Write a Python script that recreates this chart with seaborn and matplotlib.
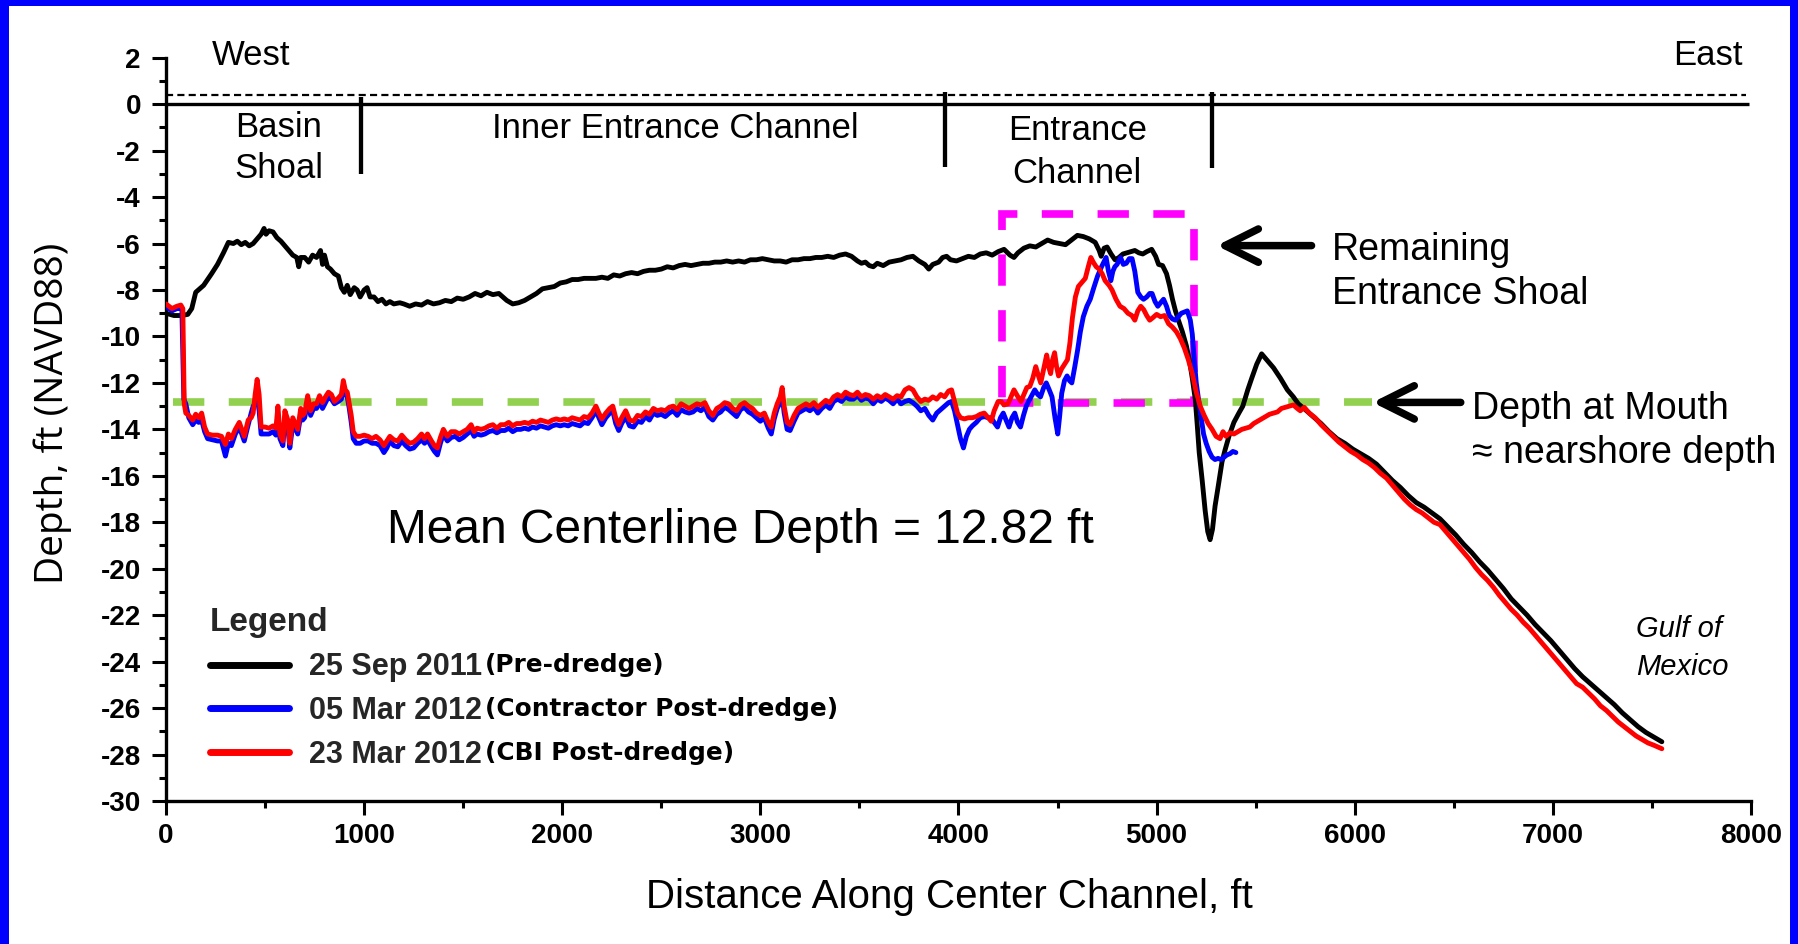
import matplotlib
matplotlib.use("Agg")
import matplotlib.pyplot as plt
import numpy as np
import pandas as pd
import seaborn as sns
from matplotlib.patches import Rectangle
from matplotlib.ticker import MultipleLocator
from matplotlib.font_manager import FontProperties

# ---------------- data ----------------
PRE_X = [0, 40, 80, 110, 130, 150, 190, 230, 260, 290, 315, 340, 360, 380, 400, 420, 440, 460, 480, 495,
         505, 520, 540, 560, 580, 600, 620, 640, 660, 670, 680, 700, 720, 740, 760, 780, 790, 800, 815, 830,
         850, 870, 885, 900, 915, 930, 950, 965, 980, 1000, 1015, 1030, 1050, 1070, 1090, 1110, 1130, 1150,
         1180, 1200, 1230, 1260, 1290, 1320, 1350, 1380, 1410, 1440, 1470, 1500, 1530, 1560, 1590, 1620,
         1650, 1680, 1700, 1720, 1750, 1780, 1810, 1840, 1870, 1900, 1930, 1960, 1990, 2020, 2050, 2080,
         2110, 2140, 2170, 2200, 2230, 2260, 2290, 2320, 2350, 2380, 2410, 2440, 2470, 2500, 2530, 2560,
         2590, 2620, 2650, 2680, 2710, 2740, 2770, 2800, 2830, 2860, 2890, 2920, 2950, 2980, 3010, 3040,
         3070, 3100, 3130, 3160, 3190, 3220, 3250, 3280, 3310, 3340, 3370, 3400, 3430, 3460, 3490, 3510,
         3530, 3550, 3570, 3590, 3620, 3650, 3680, 3710, 3740, 3770, 3800, 3830, 3850, 3870, 3900, 3920,
         3940, 3960, 3990, 4020, 4050, 4080, 4110, 4140, 4170, 4200, 4230, 4260, 4280, 4300, 4330, 4360,
         4390, 4420, 4450, 4480, 4510, 4540, 4570, 4600, 4630, 4660, 4690, 4710, 4720, 4735, 4750, 4770,
         4790, 4810, 4830, 4850, 4870, 4890, 4910, 4930, 4950, 4975, 4995, 5010, 5030, 5050, 5065, 5080,
         5095, 5110, 5130, 5150, 5165, 5180, 5195, 5205, 5215, 5230, 5245, 5258, 5270, 5282, 5295, 5310,
         5330, 5345, 5365, 5390, 5415, 5435, 5460, 5480, 5505, 5530, 5555, 5590, 5625, 5660, 5690, 5715,
         5750, 5790, 5830, 5870, 5910, 5950, 5990, 6030, 6070, 6110, 6150, 6190, 6230, 6270, 6310, 6350,
         6390, 6430, 6470, 6510, 6550, 6590, 6630, 6670, 6710, 6750, 6790, 6830, 6870, 6910, 6950, 6990,
         7030, 7070, 7110, 7150, 7190, 7230, 7270, 7310, 7350, 7390, 7430, 7470, 7510, 7550]
PRE_Y = [-9.0, -9.1, -9.1, -9.05, -8.8, -8.1, -7.8, -7.3, -6.9, -6.4, -5.95, -6.0, -5.9, -6.05, -5.95, -6.1,
         -6.0, -5.8, -5.6, -5.35, -5.6, -5.45, -5.5, -5.75, -5.9, -6.1, -6.3, -6.5, -6.6, -7.0, -6.6, -6.6,
         -6.8, -6.5, -6.6, -6.3, -6.9, -6.5, -7.0, -7.1, -7.3, -7.4, -7.9, -8.1, -7.8, -8.2, -7.9, -8.0,
         -8.3, -8.0, -7.9, -8.3, -8.3, -8.5, -8.4, -8.6, -8.5, -8.6, -8.55, -8.6, -8.7, -8.6, -8.65, -8.5,
         -8.6, -8.55, -8.45, -8.5, -8.35, -8.4, -8.3, -8.15, -8.25, -8.1, -8.2, -8.15, -8.3, -8.45, -8.6,
         -8.55, -8.45, -8.3, -8.15, -7.95, -7.9, -7.85, -7.7, -7.65, -7.55, -7.55, -7.5, -7.5, -7.5, -7.45,
         -7.5, -7.35, -7.4, -7.3, -7.25, -7.3, -7.2, -7.15, -7.15, -7.1, -7.0, -7.05, -6.95, -6.9, -6.95,
         -6.9, -6.85, -6.85, -6.8, -6.8, -6.75, -6.8, -6.75, -6.8, -6.7, -6.7, -6.65, -6.7, -6.75, -6.75,
         -6.8, -6.7, -6.7, -6.65, -6.65, -6.6, -6.6, -6.55, -6.6, -6.5, -6.45, -6.55, -6.75, -6.85, -6.8,
         -6.95, -7.0, -6.85, -6.95, -6.8, -6.75, -6.7, -6.6, -6.55, -6.75, -6.9, -7.1, -6.9, -6.8, -6.6,
         -6.55, -6.7, -6.75, -6.65, -6.55, -6.6, -6.45, -6.4, -6.5, -6.35, -6.25, -6.5, -6.6, -6.4, -6.2,
         -6.1, -6.15, -6.0, -5.85, -5.95, -6.0, -6.05, -5.85, -5.65, -5.7, -5.8, -5.95, -6.3, -6.55, -6.2,
         -6.15, -6.45, -6.7, -6.6, -6.45, -6.4, -6.35, -6.3, -6.4, -6.45, -6.35, -6.25, -6.55, -6.9, -6.95,
         -7.3, -7.8, -8.4, -8.9, -9.3, -9.8, -10.4, -11.0, -11.8, -12.7, -13.8, -15.0, -16.2, -17.5, -18.4,
         -18.75, -18.3, -17.3, -16.5, -15.4, -14.9, -14.3, -13.7, -13.3, -13.0, -12.3, -11.8, -11.2, -10.75,
         -11.0, -11.35, -11.8, -12.3, -12.6, -12.9, -13.15, -13.45, -13.75, -14.1, -14.4, -14.6, -14.85,
         -15.05, -15.25, -15.5, -15.85, -16.2, -16.5, -16.85, -17.15, -17.35, -17.6, -17.85, -18.2, -18.55,
         -18.95, -19.3, -19.7, -20.05, -20.45, -20.85, -21.3, -21.65, -22.0, -22.4, -22.75, -23.1, -23.5,
         -23.9, -24.3, -24.65, -24.95, -25.25, -25.55, -25.85, -26.2, -26.5, -26.8, -27.05, -27.25, -27.45]

CON_X = [0, 30, 55, 80, 90, 100, 115, 135, 150, 165, 180, 195, 210, 235, 260, 280, 300, 315, 330, 350,
         370, 395, 415, 430, 440, 450, 460, 470, 480, 500, 520, 540, 555, 565, 575, 590, 600, 615, 625, 640,
         655, 665, 680, 690, 700, 715, 730, 745, 760, 775, 790, 805, 820, 835, 850, 870, 885, 895, 905, 915,
         925, 935, 945, 960, 980, 1000, 1020, 1040, 1060, 1080, 1100, 1115, 1130, 1150, 1170, 1190, 1210,
         1230, 1250, 1270, 1290, 1305, 1320, 1340, 1355, 1370, 1385, 1400, 1420, 1440, 1460, 1480, 1500,
         1520, 1540, 1555, 1570, 1590, 1610, 1630, 1650, 1670, 1690, 1710, 1730, 1750, 1770, 1790, 1810,
         1830, 1850, 1870, 1890, 1910, 1930, 1950, 1970, 1990, 2010, 2030, 2050, 2070, 2090, 2110, 2130,
         2150, 2170, 2185, 2200, 2220, 2240, 2255, 2270, 2285, 2300, 2320, 2340, 2360, 2380, 2400, 2420,
         2440, 2460, 2480, 2500, 2520, 2540, 2560, 2580, 2600, 2620, 2640, 2660, 2680, 2700, 2720, 2740,
         2760, 2780, 2800, 2820, 2840, 2860, 2880, 2900, 2920, 2940, 2960, 2980, 3000, 3020, 3040, 3055,
         3070, 3085, 3100, 3110, 3120, 3135, 3150, 3170, 3190, 3210, 3230, 3250, 3270, 3290, 3310, 3330,
         3350, 3370, 3390, 3410, 3430, 3450, 3470, 3490, 3510, 3530, 3550, 3570, 3590, 3610, 3630, 3650,
         3670, 3690, 3710, 3730, 3750, 3770, 3790, 3810, 3830, 3850, 3870, 3890, 3910, 3930, 3950, 3965,
         3980, 3995, 4010, 4025, 4040, 4055, 4070, 4090, 4110, 4130, 4150, 4165, 4180, 4197, 4212, 4226,
         4240, 4255, 4270, 4284, 4298, 4313, 4328, 4342, 4360, 4385, 4400, 4414, 4430, 4443, 4458, 4472,
         4487, 4501, 4511, 4521, 4535, 4548, 4560, 4572, 4587, 4601, 4615, 4630, 4648, 4665, 4683, 4702,
         4722, 4745, 4757, 4769, 4779, 4789, 4800, 4818, 4832, 4847, 4862, 4876, 4890, 4905, 4920, 4934,
         4950, 4965, 4977, 4992, 5006, 5020, 5035, 5050, 5064, 5080, 5095, 5110, 5125, 5140, 5155, 5170,
         5180, 5190, 5200, 5213, 5225, 5237, 5250, 5265, 5280, 5295, 5310, 5325, 5340, 5355, 5370, 5385, 5400]
CON_Y = [-8.7, -8.9, -8.8, -8.8, -12.7, -12.9, -13.5, -13.8, -13.6, -13.7, -13.6, -14.1, -14.4, -14.45,
         -14.5, -14.5, -15.15, -14.6, -14.7, -14.2, -13.9, -14.5, -13.8, -13.3, -13.0, -12.9, -12.6, -13.2,
         -14.2, -14.2, -14.2, -14.1, -14.25, -13.4, -14.4, -14.7, -13.5, -13.9, -14.8, -13.8, -14.0, -14.2,
         -13.4, -13.6, -13.5, -12.8, -13.4, -13.1, -13.1, -12.8, -13.1, -12.85, -12.6, -12.7, -12.9, -12.8,
         -12.7, -12.3, -12.5, -12.6, -13.1, -13.7, -14.4, -14.6, -14.6, -14.5, -14.5, -14.6, -14.6, -14.7,
         -15.0, -14.8, -14.5, -14.7, -14.75, -14.5, -14.7, -14.85, -14.8, -14.6, -14.45, -14.6, -14.45,
         -14.75, -14.95, -15.1, -14.6, -14.2, -14.5, -14.35, -14.3, -14.45, -14.35, -14.2, -14.05, -14.3,
         -14.2, -14.25, -14.2, -14.1, -14.05, -14.15, -14.05, -14.05, -13.95, -14.1, -14.0, -14.0, -13.95,
         -14.0, -13.9, -13.95, -13.85, -13.9, -13.95, -13.85, -13.8, -13.85, -13.8, -13.85, -13.75, -13.8,
         -13.85, -13.7, -13.75, -13.5, -13.2, -13.5, -13.8, -13.5, -13.3, -13.2, -13.75, -14.05, -13.75,
         -13.45, -13.85, -13.9, -13.65, -13.7, -13.45, -13.6, -13.3, -13.4, -13.35, -13.45, -13.3, -13.2,
         -13.4, -13.15, -13.25, -13.3, -13.25, -13.1, -13.2, -13.05, -13.45, -13.6, -13.35, -13.25, -13.05,
         -13.15, -13.3, -13.45, -13.15, -13.05, -13.25, -13.35, -13.5, -13.65, -13.5, -13.95, -14.2, -13.55,
         -13.1, -12.85, -12.5, -13.3, -14.0, -14.05, -13.65, -13.3, -13.2, -13.1, -13.2, -13.05, -13.3,
         -13.1, -12.95, -13.1, -12.8, -12.7, -12.8, -12.6, -12.7, -12.7, -12.55, -12.75, -12.65, -12.7,
         -12.9, -12.7, -12.8, -12.65, -12.75, -12.9, -12.7, -12.9, -12.8, -12.75, -12.85, -13.0, -13.2,
         -13.1, -13.4, -13.6, -13.3, -13.15, -13.0, -12.85, -12.8, -13.2, -13.8, -14.4, -14.8, -14.3, -14.0,
         -13.85, -13.7, -13.5, -13.45, -13.5, -13.5, -13.7, -13.9, -13.5, -13.3, -13.6, -13.9, -13.5, -13.3,
         -13.7, -13.9, -13.4, -13.0, -12.7, -12.3, -12.5, -12.6, -12.2, -12.0, -12.3, -12.6, -13.5, -14.2,
         -13.4, -12.45, -11.9, -11.7, -11.9, -12.0, -11.3, -10.6, -9.8, -9.15, -8.7, -8.4, -7.9, -7.4, -7.0,
         -6.6, -7.2, -7.6, -7.2, -7.0, -6.9, -6.6, -6.9, -6.85, -6.65, -6.65, -7.2, -8.1, -8.3, -8.4, -8.3,
         -8.15, -8.15, -8.5, -8.7, -8.55, -8.4, -8.7, -9.1, -9.25, -9.3, -9.15, -9.0, -8.95, -8.9, -9.3,
         -9.9, -11.0, -12.0, -12.8, -13.5, -14.2, -14.6, -14.95, -15.2, -15.3, -15.25, -15.3, -15.2, -15.1,
         -15.05, -14.95, -15.0]

CBI_X = [0, 30, 55, 75, 85, 92, 100, 115, 135, 150, 165, 180, 195, 210, 235, 260, 280, 300, 315, 330,
         350, 370, 395, 415, 430, 440, 450, 460, 470, 480, 500, 520, 540, 555, 565, 575, 590, 600, 615, 625,
         640, 655, 665, 680, 690, 700, 715, 730, 745, 760, 775, 790, 805, 820, 835, 850, 870, 885, 895, 905,
         915, 925, 935, 945, 960, 980, 1000, 1020, 1040, 1060, 1080, 1100, 1115, 1130, 1150, 1170, 1190,
         1210, 1230, 1250, 1270, 1290, 1305, 1320, 1340, 1355, 1370, 1385, 1400, 1420, 1440, 1460, 1480,
         1500, 1520, 1540, 1555, 1570, 1590, 1610, 1630, 1650, 1670, 1690, 1710, 1730, 1750, 1770, 1790,
         1810, 1830, 1850, 1870, 1890, 1910, 1930, 1950, 1970, 1990, 2010, 2030, 2050, 2070, 2090, 2110,
         2130, 2150, 2170, 2185, 2200, 2220, 2240, 2255, 2270, 2285, 2300, 2320, 2340, 2360, 2380, 2400,
         2420, 2440, 2460, 2480, 2500, 2520, 2540, 2560, 2580, 2600, 2620, 2640, 2660, 2680, 2700, 2720,
         2740, 2760, 2780, 2800, 2820, 2840, 2860, 2880, 2900, 2920, 2940, 2960, 2980, 3000, 3020, 3040,
         3055, 3070, 3085, 3100, 3110, 3120, 3135, 3150, 3170, 3190, 3210, 3230, 3250, 3270, 3290, 3310,
         3330, 3350, 3370, 3390, 3410, 3430, 3450, 3470, 3490, 3510, 3530, 3550, 3570, 3590, 3610, 3630,
         3650, 3670, 3690, 3710, 3730, 3750, 3770, 3790, 3810, 3830, 3850, 3870, 3890, 3910, 3930, 3950,
         3965, 3980, 3995, 4010, 4030, 4050, 4070, 4090, 4110, 4130, 4150, 4165, 4180, 4200, 4215, 4230,
         4250, 4265, 4280, 4300, 4315, 4330, 4345, 4360, 4375, 4390, 4400, 4415, 4430, 4445, 4455, 4465,
         4475, 4485, 4495, 4505, 4520, 4535, 4550, 4562, 4575, 4590, 4605, 4620, 4640, 4655, 4668, 4680,
         4695, 4710, 4725, 4740, 4760, 4775, 4795, 4815, 4835, 4855, 4875, 4890, 4905, 4920, 4935, 4950,
         4965, 4980, 5000, 5020, 5040, 5060, 5080, 5100, 5120, 5140, 5160, 5180, 5200, 5220, 5240, 5260,
         5280, 5300, 5320, 5335, 5350, 5370, 5390, 5410, 5430, 5450, 5470, 5490, 5510, 5530, 5550, 5570,
         5590, 5610, 5630, 5650, 5670, 5690, 5710, 5725, 5745, 5770, 5800, 5830, 5860, 5890, 5920, 5950,
         5980, 6010, 6040, 6070, 6100, 6130, 6160, 6190, 6220, 6250, 6280, 6310, 6340, 6370, 6400, 6430,
         6460, 6490, 6520, 6550, 6580, 6610, 6640, 6670, 6700, 6730, 6760, 6790, 6820, 6850, 6880, 6910,
         6940, 6970, 7000, 7030, 7060, 7090, 7120, 7150, 7180, 7210, 7240, 7270, 7300, 7330, 7360, 7390,
         7420, 7450, 7480, 7510, 7550]
CBI_Y = [-8.6, -8.8, -8.7, -8.65, -8.8, -12.9, -13.3, -13.4, -13.6, -13.35, -13.5, -13.3, -13.9, -14.2,
         -14.25, -14.25, -14.3, -14.65, -14.2, -14.4, -14.0, -13.7, -14.3, -13.6, -13.5, -13.3, -12.5, -11.85,
         -12.5, -13.9, -13.9, -13.95, -13.85, -13.95, -13.0, -14.2, -14.5, -13.2, -13.6, -14.6, -13.5, -13.8,
         -14.0, -13.1, -13.4, -13.3, -12.55, -13.2, -12.9, -12.9, -12.55, -12.85, -12.6, -12.4, -12.5, -12.8,
         -12.65, -12.5, -11.9, -12.3, -12.4, -12.9, -13.4, -14.1, -14.3, -14.3, -14.25, -14.3, -14.4, -14.3,
         -14.45, -14.7, -14.5, -14.3, -14.45, -14.5, -14.25, -14.45, -14.6, -14.55, -14.4, -14.2, -14.4,
         -14.2, -14.5, -14.7, -14.8, -14.35, -14.0, -14.3, -14.1, -14.1, -14.2, -14.1, -14.0, -13.8, -14.1,
         -13.95, -14.0, -13.95, -13.85, -13.8, -13.95, -13.8, -13.8, -13.7, -13.85, -13.75, -13.75, -13.7,
         -13.75, -13.65, -13.7, -13.6, -13.65, -13.7, -13.6, -13.55, -13.6, -13.55, -13.6, -13.5, -13.55,
         -13.6, -13.45, -13.5, -13.3, -13.0, -13.3, -13.55, -13.3, -13.1, -13.0, -13.5, -13.8, -13.5, -13.2,
         -13.6, -13.65, -13.4, -13.45, -13.25, -13.35, -13.1, -13.2, -13.15, -13.2, -13.05, -13.0, -13.15,
         -12.9, -13.0, -13.1, -13.0, -12.9, -12.95, -12.85, -13.2, -13.4, -13.1, -13.0, -12.85, -12.9, -13.1,
         -13.2, -12.95, -12.85, -13.0, -13.1, -13.3, -13.4, -13.3, -13.7, -13.9, -13.3, -12.9, -12.6, -12.2,
         -13.0, -13.7, -13.8, -13.4, -13.1, -13.0, -12.9, -13.0, -12.85, -13.05, -12.9, -12.75, -12.85,
         -12.6, -12.5, -12.6, -12.4, -12.5, -12.55, -12.4, -12.6, -12.5, -12.55, -12.7, -12.55, -12.65,
         -12.5, -12.6, -12.7, -12.55, -12.6, -12.3, -12.2, -12.3, -12.6, -12.8, -12.7, -12.75, -12.6, -12.7,
         -12.5, -12.6, -12.35, -12.3, -12.8, -13.3, -13.5, -13.55, -13.5, -13.5, -13.45, -13.35, -13.3,
         -13.5, -13.65, -13.2, -12.8, -12.8, -12.95, -12.9, -12.6, -12.3, -12.6, -12.8, -12.5, -12.2, -12.15,
         -11.8, -11.3, -11.6, -12.0, -11.4, -10.8, -11.3, -11.6, -11.0, -10.7, -11.3, -11.7, -11.4, -11.2,
         -11.0, -10.3, -9.2, -8.3, -7.85, -7.7, -7.5, -7.0, -6.6, -6.8, -7.0, -7.1, -7.3, -7.6, -7.8, -8.0,
         -8.4, -8.7, -8.8, -9.0, -9.1, -9.3, -8.9, -8.7, -8.85, -9.1, -9.3, -9.2, -9.05, -9.15, -9.1, -9.45,
         -9.6, -9.8, -10.1, -10.5, -11.0, -11.6, -12.4, -13.0, -13.4, -13.75, -14.0, -14.3, -14.4, -14.1,
         -14.3, -14.15, -14.2, -14.1, -14.0, -13.95, -13.9, -13.75, -13.65, -13.55, -13.45, -13.35, -13.3,
         -13.25, -13.1, -13.05, -13.0, -12.95, -13.1, -13.2, -13.05, -13.3, -13.5, -13.8, -14.05, -14.3,
         -14.55, -14.75, -14.95, -15.1, -15.3, -15.45, -15.65, -15.9, -16.1, -16.4, -16.7, -17.0, -17.25,
         -17.45, -17.6, -17.8, -18.0, -18.1, -18.4, -18.7, -19.0, -19.3, -19.6, -19.95, -20.25, -20.5,
         -20.8, -21.15, -21.45, -21.75, -22.0, -22.3, -22.55, -22.85, -23.15, -23.45, -23.75, -24.05,
         -24.35, -24.65, -24.95, -25.1, -25.35, -25.6, -25.9, -26.1, -26.35, -26.6, -26.8, -27.0, -27.2,
         -27.35, -27.5, -27.6, -27.75]

SURVEYS = ["25 Sep 2011", "05 Mar 2012", "23 Mar 2012"]
SURVEY_NOTES = ["(Pre-dredge)", "(Contractor Post-dredge)", "(CBI Post-dredge)"]
MEAN_DEPTH = -12.82
SECTION_BOUNDS = [985, 3932, 5280]
SECTION_TOPS = [0.3, 0.54, 0.52]
SECTION_BOTTOMS = [-3.0, -2.7, -2.75]
MHW_LEVEL = 0.4
SHOAL_BOX = (4220, -12.85, 5187, -4.74)   # x0, y0, x1, y1

# ---------------- styling ----------------
sns.set_theme(style="ticks")
plt.rcParams["font.family"] = ["Liberation Sans", "DejaVu Sans"]
plt.rcParams["axes.unicode_minus"] = False

COLORS = {"25 Sep 2011": "#000000", "05 Mar 2012": "#0000FF", "23 Mar 2012": "#FF0000"}

fig = plt.figure(figsize=(17.98, 9.44), dpi=100)
fig.patch.set_facecolor("white")
ax = fig.add_axes([0.09232, 0.15148, 0.88154, 0.7874])
ax.set_facecolor("white")

frames = [
    pd.DataFrame({"Distance": PRE_X, "Depth": PRE_Y, "Survey": SURVEYS[0]}),
    pd.DataFrame({"Distance": CON_X, "Depth": CON_Y, "Survey": SURVEYS[1]}),
    pd.DataFrame({"Distance": CBI_X, "Depth": CBI_Y, "Survey": SURVEYS[2]}),
]
df = pd.concat(frames, ignore_index=True)

sns.lineplot(data=df, x="Distance", y="Depth", hue="Survey", hue_order=SURVEYS,
             palette=COLORS, estimator=None, sort=False, linewidth=3.5,
             legend=False, ax=ax, zorder=3)
series_lines = ax.get_lines()[:3]

ax.set_xlim(0, 8000)
ax.set_ylim(-30, 2)
ax.xaxis.set_major_locator(MultipleLocator(1000))
ax.xaxis.set_minor_locator(MultipleLocator(500))
ax.yaxis.set_major_locator(MultipleLocator(2))
ax.yaxis.set_minor_locator(MultipleLocator(1))
sns.despine(ax=ax)
for side in ("left", "bottom"):
    ax.spines[side].set_linewidth(2.4)
    ax.spines[side].set_color("black")
ax.tick_params(which="major", length=10, width=2.2, direction="out", colors="black")
ax.tick_params(which="minor", length=5, width=2.2, direction="out", colors="black")
ax.tick_params(axis="y", which="major", pad=8)
ax.tick_params(axis="x", which="major", pad=5.5)
tick_fp = FontProperties(family="Liberation Sans", weight="bold", size=20)
for lab in ax.get_xticklabels() + ax.get_yticklabels():
    lab.set_fontproperties(tick_fp)

ax.set_xlabel("Distance Along Center Channel, ft", fontsize=29, color="black")
ax.xaxis.set_label_coords(0.494, -0.1298)
ax.xaxis.label.set_va("center")
ax.set_ylabel("Depth, ft (NAVD88)", fontsize=28, color="black", family=["Open Sans", "DejaVu Sans"])
ax.yaxis.set_label_coords(-0.0712, 0.522)
ax.yaxis.label.set_va("center")
ax.yaxis.label.set_ha("center")

# reference lines
ax.hlines(0, 0, 7990, colors="black", linewidth=2.4, zorder=2)
ax.hlines(MHW_LEVEL, 0, 7975, colors="black", linewidth=1.6, linestyles=(0, (3.2, 1.9)), zorder=2)
ax.vlines(SECTION_BOUNDS, SECTION_BOTTOMS, SECTION_TOPS, colors="black", linewidth=3.1, zorder=2)
ax.hlines(MEAN_DEPTH, 37, 6085, colors="#92D050", linewidth=5.5, linestyles=(0, (4.1, 3.2)), zorder=2.5)
bx0, by0, bx1, by1 = SHOAL_BOX
ax.add_patch(Rectangle((bx0, by0), bx1 - bx0, by1 - by0, fill=False, edgecolor="#FF00FF",
                       linewidth=5.5, linestyle=(0, (4.1, 3.2)), zorder=2.5))

# text annotations
t25 = dict(fontsize=25, color="black", va="baseline")
ax.text(232, 1.69, "West", ha="left", **t25)
ax.text(7957, 1.69, "East", ha="right", **t25)
ax.text(570, -1.40, "Basin", ha="center", **t25)
ax.text(570, -3.16, "Shoal", ha="center", **t25)
ax.text(2570, -1.44, "Inner Entrance Channel", ha="center", **t25)
ax.text(4599, -1.54, "Entrance", ha="center", **t25)
ax.text(4599, -3.40, "Channel", ha="center", **t25)
t27 = dict(fontsize=27, color="black", va="baseline", ha="left")
ax.text(5883, -6.70, "Remaining", **t27)
ax.text(5883, -8.61, "Entrance Shoal", **t27)
ax.text(6592, -13.57, "Depth at Mouth", **t27)
ax.text(6592, -15.46, "\u2248 nearshore depth", **t27)
ax.text(2897, -18.88, "Mean Centerline Depth = 12.82 ft", fontsize=34.5, ha="center",
        va="baseline", color="black")
ax.text(7420, -22.93, "Gulf of", fontsize=21, style="italic", ha="left", va="baseline", color="black")
ax.text(7420, -24.58, "Mexico", fontsize=21, style="italic", ha="left", va="baseline", color="black")

arrow_props = dict(arrowstyle="->,head_length=1.2,head_width=0.6", lw=5.4, color="black",
                   shrinkA=0, shrinkB=0, mutation_scale=20, capstyle="round", joinstyle="round")
ax.annotate("", xy=(5303, -6.09), xytext=(5782, -6.09), arrowprops=arrow_props, zorder=4)
ax.annotate("", xy=(6090, -12.84), xytext=(6535, -12.84), arrowprops=arrow_props, zorder=4)

# legend
leg = ax.legend(handles=series_lines, labels=SURVEYS, loc="upper left",
                bbox_to_anchor=(0.0278, 0.2604), title="Legend", alignment="left",
                frameon=False,
                prop=FontProperties(family="Liberation Sans", weight="bold", size=22),
                title_fontproperties=FontProperties(family="Liberation Sans", weight="bold", size=24),
                handlelength=2.6, handletextpad=0.65, labelspacing=0.45,
                borderpad=0, borderaxespad=0)
leg.set_zorder(5)
for h in leg.legend_handles:
    h.set_linewidth(5)
for txt, note in zip(leg.get_texts(), SURVEY_NOTES):
    ax.annotate(note, xy=(1, 0), xycoords=txt, xytext=(2, 3.5), textcoords="offset points",
                ha="left", va="bottom", fontsize=17.8, fontweight="bold",
                family=["DejaVu Sans"], color="black", zorder=7)

# blue frame
for rect in [(0, 0, 9 / 1798, 1), (0, 1 - 6 / 944, 1, 6 / 944), (1 - 8 / 1798, 0, 8 / 1798, 1)]:
    fig.add_artist(Rectangle(rect[:2], rect[2], rect[3], transform=fig.transFigure,
                             facecolor="#0000FF", edgecolor="none", zorder=10))

fig.canvas.draw()
fig.savefig("out.png", dpi=100, facecolor="white")
